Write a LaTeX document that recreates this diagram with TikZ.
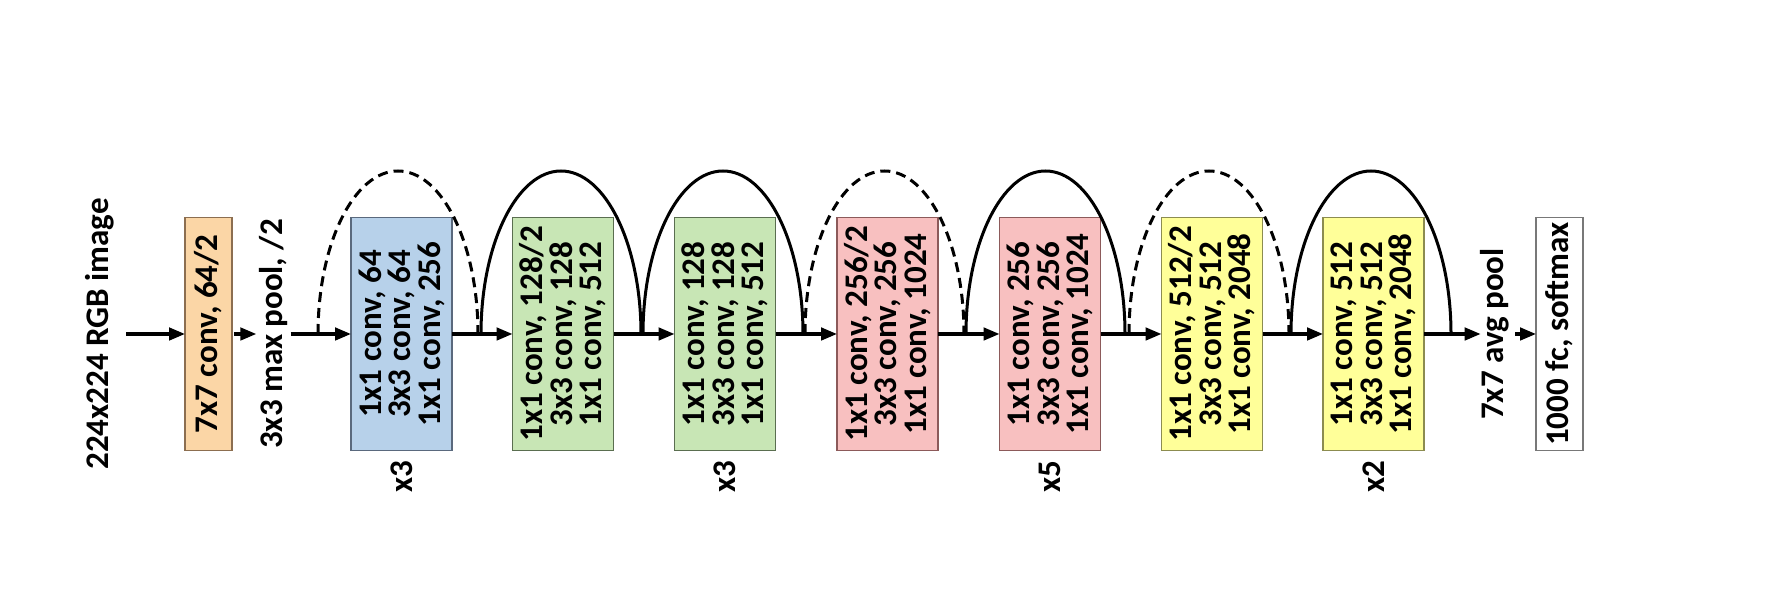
\documentclass[tikz,border=0pt]{standalone}
\usepackage{fontspec}
\setmainfont{Carlito}
\usetikzlibrary{arrows.meta}
\definecolor{forange}{RGB}{251,214,166}
\definecolor{dorange}{RGB}{140,110,80}
\definecolor{fblue}{RGB}{183,209,234}
\definecolor{dblue}{RGB}{90,105,125}
\definecolor{fgreen}{RGB}{200,230,181}
\definecolor{dgreen}{RGB}{90,110,80}
\definecolor{fpink}{RGB}{248,192,192}
\definecolor{dpink}{RGB}{140,90,90}
\definecolor{fyellow}{RGB}{255,255,153}
\definecolor{dyellow}{RGB}{140,140,80}
\definecolor{dgray}{RGB}{120,120,120}
\begin{document}
\begin{tikzpicture}[x=1pt,y=1pt,
  txt/.style={font=\fontsize{33}{29.5}\selectfont\bfseries, rotate=90, inner sep=0pt, outer sep=0pt, align=center},
  blockbox/.style={txt, minimum width=233pt, minimum height=101pt, line width=1.2pt},
  smallbox/.style={blockbox, minimum height=47pt},
  arr/.style={line width=3.2pt, -{Triangle[length=16pt,width=12.5pt]}},
  skip/.style={line width=3pt},
  skipdash/.style={skip, dash pattern=on 10pt off 6pt}]
\useasboundingbox (0,0) rectangle (1772,591);

% nodes
\node[txt] (img) at (100,257) {224x224 RGB image};
\node[smallbox, fill=forange, draw=dorange] (c1) at (208.5,257) {7x7 conv, 64/2};
\node[txt] (pool) at (273.5,257) {3x3 max pool, /2};
\node[blockbox, fill=fblue, draw=dblue] (b1) at (401.5,257) {1x1 conv, 64\\3x3 conv, 64\\1x1 conv, 256};
\node[blockbox, fill=fgreen, draw=dgreen] (g1) at (563,257) {1x1 conv, 128/2\\3x3 conv, 128\\1x1 conv, 512};
\node[blockbox, fill=fgreen, draw=dgreen] (g2) at (725,257) {1x1 conv, 128\\3x3 conv, 128\\1x1 conv, 512};
\node[blockbox, fill=fpink, draw=dpink] (p1) at (887.5,257) {1x1 conv, 256/2\\3x3 conv, 256\\1x1 conv, 1024};
\node[blockbox, fill=fpink, draw=dpink] (p2) at (1050,257) {1x1 conv, 256\\3x3 conv, 256\\1x1 conv, 1024};
\node[blockbox, fill=fyellow, draw=dyellow] (y1) at (1212,257) {1x1 conv, 512/2\\3x3 conv, 512\\1x1 conv, 2048};
\node[blockbox, fill=fyellow, draw=dyellow] (y2) at (1373.5,257) {1x1 conv, 512\\3x3 conv, 512\\1x1 conv, 2048};
\node[txt] (avg) at (1495,257) {7x7 avg pool};
\node[smallbox, fill=white, draw=dgray] (fc) at (1559.5,257) {1000 fc, softmax};

% repeat labels
\node[txt] (r1) at (401.5,114) {x3};
\node[txt] (r2) at (725,114) {x3};
\node[txt] (r3) at (1050,114) {x5};
\node[txt] (r4) at (1373.5,114) {x2};

% main chain
\coordinate (in) at (126,257);
\draw[arr] (in) -- (c1.north);
\draw[arr] ([xshift=2pt]c1.south) -- ([xshift=-3pt]pool.north);
\draw[arr] ([xshift=3pt]pool.south) -- (b1.north);
\draw[arr] (b1.south) -- (g1.north);
\draw[arr] (g1.south) -- (g2.north);
\draw[arr] (g2.south) -- (p1.north);
\draw[arr] (p1.south) -- (p2.north);
\draw[arr] (p2.south) -- (y1.north);
\draw[arr] (y1.south) -- (y2.north);
\draw[arr] (y2.south) -- (avg.north);
\draw[arr] ([xshift=6pt]avg.south) -- (fc.north);

% shortcut arcs
\coordinate (k1) at (318,257);
\coordinate (k2) at (481,257);
\coordinate (k3) at (643,257);
\coordinate (k4) at (805,257);
\coordinate (k5) at (966,257);
\coordinate (k6) at (1129,257);
\coordinate (k7) at (1291,257);
\draw[skipdash] (k1) arc[start angle=180, end angle=0, x radius=80, y radius=163];
\draw[skip] (k2) arc[start angle=180, end angle=0, x radius=80, y radius=163];
\draw[skip] (k3) arc[start angle=180, end angle=0, x radius=80, y radius=163];
\draw[skipdash] (k4) arc[start angle=180, end angle=0, x radius=79.5, y radius=163];
\draw[skip] (k5) arc[start angle=180, end angle=0, x radius=79.5, y radius=163];
\draw[skipdash] (k6) arc[start angle=180, end angle=0, x radius=80, y radius=163];
\draw[skip] (k7) arc[start angle=180, end angle=0, x radius=80, y radius=163];
\end{tikzpicture}
\end{document}
